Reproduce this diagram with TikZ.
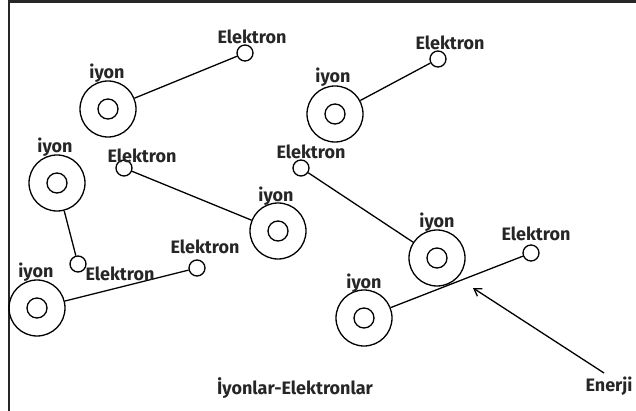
\documentclass[tikz,border=0pt]{standalone}
\usepackage{fontspec}
\setmainfont{Fira Sans}
\usetikzlibrary{arrows.meta}
\begin{document}
\begin{tikzpicture}[x=1pt,y=-1pt,
  ion/.style={circle,draw,line width=1.3pt,minimum size=56pt,inner sep=0pt},
  core/.style={circle,draw,line width=1.3pt,minimum size=20pt,inner sep=0pt},
  elec/.style={circle,draw,line width=1.3pt,minimum size=16pt,inner sep=0pt,fill=white},
  lbl/.style={font=\bfseries\fontsize{18}{20}\selectfont,inner sep=0pt,text=black!85},
  bond/.style={line width=1.3pt}]
\useasboundingbox (0,0) rectangle (636,411);
% frame: top and left edges
\draw[line width=2.6pt,black!85] (636,1.5) -- (9,1.5) -- (9,411);

% ions
\node[ion] (i1) at (108,109) {};  \node[core] (i1c) at (i1) {};
\node[ion] (i2) at (335,114) {};  \node[core] (i2c) at (i2) {};
\node[ion] (i3) at (57,183) {};   \node[core] (i3c) at (i3) {};
\node[ion] (i4) at (278,231) {};  \node[core] (i4c) at (i4) {};
\node[ion] (i5) at (37,308) {};   \node[core] (i5c) at (i5) {};
\node[ion] (i6) at (437,258) {};  \node[core] (i6c) at (i6) {};
\node[ion] (i7) at (364,318) {};  \node[core] (i7c) at (i7) {};

% electrons
\node[elec] (e1) at (245,53) {};
\node[elec] (e2) at (438,59) {};
\node[elec] (e3) at (78,264) {};
\node[elec] (e4) at (124,168) {};
\node[elec] (e5) at (197,268) {};
\node[elec] (e6) at (301,168) {};
\node[elec] (e7) at (531,253) {};

% bonds
\draw[bond] (i1) -- (e1);
\draw[bond] (i2) -- (e2);
\draw[bond] (i3) -- (e3);
\draw[bond] (e4) -- (i4);
\draw[bond] (i5) -- (e5);
\draw[bond] (e6) -- (i6);
\draw[bond] (i7) -- (e7);

% labels
\node[lbl] (li1) at (107,73) {iyon};
\node[lbl] (li2) at (333,77) {iyon};
\node[lbl] (li3) at (55,147) {iyon};
\node[lbl] (li4) at (276,196) {iyon};
\node[lbl] (li5) at (36,272) {iyon};
\node[lbl] (li6) at (437,222) {iyon};
\node[lbl] (li7) at (364,283) {iyon};
\node[lbl] (le1) at (252,37) {Elektron};
\node[lbl] (le2) at (450,43) {Elektron};
\node[lbl] (le3) at (120,274) {Elektron};
\node[lbl] (le4) at (142,156) {Elektron};
\node[lbl] (le5) at (205,247) {Elektron};
\node[lbl] (le6) at (311,152) {Elektron};
\node[lbl] (le7) at (536,234) {Elektron};
\node[lbl] (title) at (295,388) {İyonlar-Elektronlar};
\node[lbl] (en) at (609,386) {Enerji};

% energy arrow
\coordinate (hit) at (473,288);
\draw[bond,-{Straight Barb[length=7pt,width=9pt]}] (604,373) -- (hit);
\end{tikzpicture}
\end{document}
